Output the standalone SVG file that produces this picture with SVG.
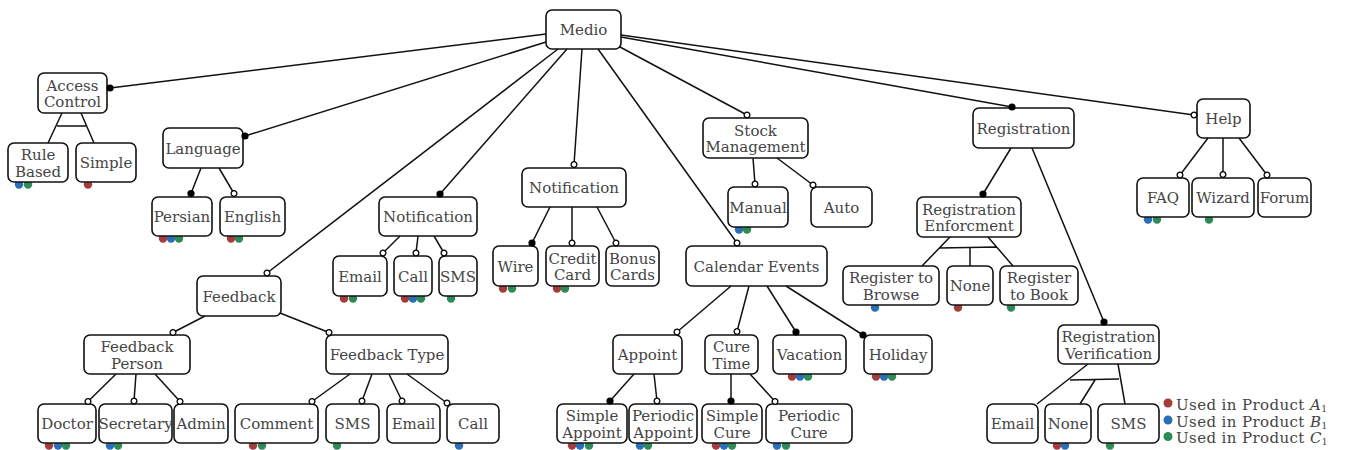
<svg xmlns="http://www.w3.org/2000/svg" width="1350" height="450" viewBox="0 0 1350 450">
<style>
.n{fill:#fff;stroke:#111;stroke-width:1.6}
.t{font-family:"DejaVu Serif","Liberation Serif",serif;font-size:15px;fill:#444;text-anchor:middle}
.lg{font-family:"DejaVu Serif","Liberation Serif",serif;font-size:15px;fill:#444;letter-spacing:0.4px}
.c{fill:none;stroke:#111;stroke-width:1.5}
.r{fill:#a43c3c}.b{fill:#2a6eb5}.g{fill:#2e8b57}
</style>
<defs>
<marker id="fd" markerUnits="userSpaceOnUse" viewBox="-5 -5 10 10" markerWidth="10" markerHeight="10" refX="0" refY="0"><circle r="3.6" fill="#000"/></marker>
<marker id="od" markerUnits="userSpaceOnUse" viewBox="-5 -5 10 10" markerWidth="10" markerHeight="10" refX="0" refY="0"><circle r="2.9" fill="#fff" stroke="#000" stroke-width="1.3"/></marker>
</defs>
<g id="usage">
<circle class="b" cx="19" cy="184.5" r="4.2"/><circle class="g" cx="28" cy="184.5" r="4.2"/>
<circle class="r" cx="88" cy="184.5" r="4.2"/>
<circle class="r" cx="163" cy="238.5" r="4.2"/><circle class="b" cx="171" cy="238.5" r="4.2"/><circle class="g" cx="179" cy="238.5" r="4.2"/>
<circle class="r" cx="231" cy="238.5" r="4.2"/><circle class="g" cx="239" cy="238.5" r="4.2"/>
<circle class="r" cx="49" cy="445.5" r="4.2"/><circle class="b" cx="58" cy="445.5" r="4.2"/><circle class="g" cx="66" cy="445.5" r="4.2"/>
<circle class="b" cx="110" cy="445.5" r="4.2"/><circle class="g" cx="118" cy="445.5" r="4.2"/>
<circle class="r" cx="253" cy="445.5" r="4.2"/><circle class="g" cx="262" cy="445.5" r="4.2"/>
<circle class="g" cx="337" cy="445.5" r="4.2"/>
<circle class="b" cx="459" cy="445.5" r="4.2"/>
<circle class="r" cx="344" cy="298.5" r="4.2"/><circle class="g" cx="353" cy="298.5" r="4.2"/>
<circle class="r" cx="405" cy="298.5" r="4.2"/><circle class="b" cx="413" cy="298.5" r="4.2"/><circle class="g" cx="421" cy="298.5" r="4.2"/>
<circle class="g" cx="451" cy="298.5" r="4.2"/>
<circle class="r" cx="503" cy="288.5" r="4.2"/><circle class="g" cx="512" cy="288.5" r="4.2"/>
<circle class="r" cx="557" cy="288.5" r="4.2"/><circle class="g" cx="565" cy="288.5" r="4.2"/>
<circle class="b" cx="739" cy="229.5" r="4.2"/><circle class="g" cx="747" cy="229.5" r="4.2"/>
<circle class="r" cx="572" cy="445.5" r="4.2"/><circle class="b" cx="580" cy="445.5" r="4.2"/><circle class="g" cx="589" cy="445.5" r="4.2"/>
<circle class="b" cx="640" cy="445.5" r="4.2"/><circle class="g" cx="648" cy="445.5" r="4.2"/>
<circle class="r" cx="716" cy="445.5" r="4.2"/><circle class="b" cx="724" cy="445.5" r="4.2"/><circle class="g" cx="732" cy="445.5" r="4.2"/>
<circle class="b" cx="777" cy="445.5" r="4.2"/><circle class="g" cx="786" cy="445.5" r="4.2"/>
<circle class="r" cx="792" cy="376.5" r="4.2"/><circle class="b" cx="800" cy="376.5" r="4.2"/><circle class="g" cx="808" cy="376.5" r="4.2"/>
<circle class="r" cx="876" cy="376.5" r="4.2"/><circle class="b" cx="884" cy="376.5" r="4.2"/><circle class="g" cx="892" cy="376.5" r="4.2"/>
<circle class="b" cx="875" cy="307.5" r="4.2"/>
<circle class="r" cx="958" cy="307.5" r="4.2"/>
<circle class="g" cx="1011" cy="307.5" r="4.2"/>
<circle class="r" cx="1057" cy="445.5" r="4.2"/><circle class="b" cx="1065" cy="445.5" r="4.2"/>
<circle class="g" cx="1110" cy="445.5" r="4.2"/>
<circle class="b" cx="1148" cy="219.5" r="4.2"/><circle class="g" cx="1157" cy="219.5" r="4.2"/>
<circle class="g" cx="1209" cy="219.5" r="4.2"/>
</g>
<g id="medio"><rect class="n" x="546" y="10" width="75" height="39" rx="6"/><text class="t" x="583.5" y="35">Medio</text></g>
<g id="access-control"><rect class="n" x="38" y="73" width="69" height="40" rx="6"/><text class="t" x="72.5" y="90.5">Access</text><text class="t" x="72.5" y="107">Control</text></g>
<g id="rule-based"><rect class="n" x="8" y="143" width="60" height="39" rx="6"/><text class="t" x="38" y="160">Rule</text><text class="t" x="38" y="176.5">Based</text></g>
<g id="simple"><rect class="n" x="76" y="143" width="60" height="39" rx="6"/><text class="t" x="106" y="168">Simple</text></g>
<g id="language"><rect class="n" x="163" y="128" width="80" height="40" rx="6"/><text class="t" x="203" y="153.5">Language</text></g>
<g id="persian"><rect class="n" x="152" y="197" width="60" height="39" rx="6"/><text class="t" x="182" y="222">Persian</text></g>
<g id="english"><rect class="n" x="220" y="197" width="65" height="39" rx="6"/><text class="t" x="252.5" y="222">English</text></g>
<g id="feedback"><rect class="n" x="197" y="276" width="84" height="40" rx="6"/><text class="t" x="239" y="301.5">Feedback</text></g>
<g id="feedback-person"><rect class="n" x="84" y="335" width="106" height="39" rx="6"/><text class="t" x="137" y="352">Feedback</text><text class="t" x="137" y="368.5">Person</text></g>
<g id="doctor"><rect class="n" x="38" y="404" width="58" height="39" rx="6"/><text class="t" x="67" y="429">Doctor</text></g>
<g id="secretary"><rect class="n" x="99" y="404" width="73" height="39" rx="6"/><text class="t" x="135.5" y="429">Secretary</text></g>
<g id="admin"><rect class="n" x="174" y="404" width="54" height="39" rx="6"/><text class="t" x="201" y="429">Admin</text></g>
<g id="feedback-type"><rect class="n" x="326" y="335" width="122" height="39" rx="6"/><text class="t" x="387" y="360">Feedback Type</text></g>
<g id="comment"><rect class="n" x="235" y="404" width="83" height="39" rx="6"/><text class="t" x="276.5" y="429">Comment</text></g>
<g id="fb-sms"><rect class="n" x="326" y="404" width="53" height="39" rx="6"/><text class="t" x="352.5" y="429">SMS</text></g>
<g id="fb-email"><rect class="n" x="387" y="404" width="53" height="39" rx="6"/><text class="t" x="413.5" y="429">Email</text></g>
<g id="fb-call"><rect class="n" x="447" y="404" width="52" height="39" rx="6"/><text class="t" x="473" y="429">Call</text></g>
<g id="notification-1"><rect class="n" x="379" y="197" width="98" height="39" rx="6"/><text class="t" x="428" y="222">Notification</text></g>
<g id="n-email"><rect class="n" x="333" y="256" width="54" height="40" rx="6"/><text class="t" x="360" y="281.5">Email</text></g>
<g id="n-call"><rect class="n" x="394" y="256" width="38" height="40" rx="6"/><text class="t" x="413" y="281.5">Call</text></g>
<g id="n-sms"><rect class="n" x="439" y="256" width="38" height="40" rx="6"/><text class="t" x="458" y="281.5">SMS</text></g>
<g id="notification-2"><rect class="n" x="522" y="168" width="104" height="39" rx="6"/><text class="t" x="574" y="193">Notification</text></g>
<g id="wire"><rect class="n" x="493" y="246" width="45" height="40" rx="6"/><text class="t" x="515.5" y="271.5">Wire</text></g>
<g id="credit-card"><rect class="n" x="546" y="246" width="53" height="40" rx="6"/><text class="t" x="572.5" y="263.5">Credit</text><text class="t" x="572.5" y="280">Card</text></g>
<g id="bonus-cards"><rect class="n" x="606" y="246" width="53" height="40" rx="6"/><text class="t" x="632.5" y="263.5">Bonus</text><text class="t" x="632.5" y="280">Cards</text></g>
<g id="stock-management"><rect class="n" x="703" y="118" width="105" height="40" rx="6"/><text class="t" x="755.5" y="135.5">Stock</text><text class="t" x="755.5" y="152">Management</text></g>
<g id="manual"><rect class="n" x="728" y="187" width="60" height="40" rx="6"/><text class="t" x="758" y="212.5">Manual</text></g>
<g id="auto"><rect class="n" x="811" y="187" width="61" height="40" rx="6"/><text class="t" x="841.5" y="212.5">Auto</text></g>
<g id="calendar-events"><rect class="n" x="686" y="246" width="141" height="40" rx="6"/><text class="t" x="756.5" y="271.5">Calendar Events</text></g>
<g id="appoint"><rect class="n" x="613" y="335" width="69" height="39" rx="6"/><text class="t" x="647.5" y="360">Appoint</text></g>
<g id="cure-time"><rect class="n" x="705" y="335" width="53" height="39" rx="6"/><text class="t" x="731.5" y="352">Cure</text><text class="t" x="731.5" y="368.5">Time</text></g>
<g id="vacation"><rect class="n" x="773" y="335" width="73" height="39" rx="6"/><text class="t" x="809.5" y="360">Vacation</text></g>
<g id="holiday"><rect class="n" x="864" y="335" width="68" height="39" rx="6"/><text class="t" x="898" y="360">Holiday</text></g>
<g id="simple-appoint"><rect class="n" x="557" y="404" width="70" height="39" rx="6"/><text class="t" x="592" y="421">Simple</text><text class="t" x="592" y="437.5">Appoint</text></g>
<g id="periodic-appoint"><rect class="n" x="629" y="404" width="68" height="39" rx="6"/><text class="t" x="663" y="421">Periodic</text><text class="t" x="663" y="437.5">Appoint</text></g>
<g id="simple-cure"><rect class="n" x="702" y="404" width="60" height="39" rx="6"/><text class="t" x="732" y="421">Simple</text><text class="t" x="732" y="437.5">Cure</text></g>
<g id="periodic-cure"><rect class="n" x="766" y="404" width="86" height="39" rx="6"/><text class="t" x="809" y="421">Periodic</text><text class="t" x="809" y="437.5">Cure</text></g>
<g id="registration"><rect class="n" x="973" y="108" width="101" height="40" rx="6"/><text class="t" x="1023.5" y="133.5">Registration</text></g>
<g id="registration-enforcment"><rect class="n" x="917" y="197" width="104" height="40" rx="6"/><text class="t" x="969" y="214.5">Registration</text><text class="t" x="969" y="231">Enforcment</text></g>
<g id="register-to-browse"><rect class="n" x="843" y="266" width="96" height="39" rx="6"/><text class="t" x="891" y="283">Register to</text><text class="t" x="891" y="299.5">Browse</text></g>
<g id="enf-none"><rect class="n" x="947" y="266" width="46" height="39" rx="6"/><text class="t" x="970" y="291">None</text></g>
<g id="register-to-book"><rect class="n" x="1000" y="266" width="78" height="39" rx="6"/><text class="t" x="1039" y="283">Register</text><text class="t" x="1039" y="299.5">to Book</text></g>
<g id="registration-verification"><rect class="n" x="1058" y="325" width="101" height="39" rx="6"/><text class="t" x="1108.5" y="342">Registration</text><text class="t" x="1108.5" y="358.5">Verification</text></g>
<g id="rv-email"><rect class="n" x="987" y="404" width="51" height="39" rx="6"/><text class="t" x="1012.5" y="429">Email</text></g>
<g id="rv-none"><rect class="n" x="1045" y="404" width="46" height="39" rx="6"/><text class="t" x="1068" y="429">None</text></g>
<g id="rv-sms"><rect class="n" x="1098" y="404" width="61" height="39" rx="6"/><text class="t" x="1128.5" y="429">SMS</text></g>
<g id="help"><rect class="n" x="1197" y="99" width="53" height="39" rx="6"/><text class="t" x="1223.5" y="124">Help</text></g>
<g id="faq"><rect class="n" x="1137" y="178" width="52" height="39" rx="6"/><text class="t" x="1163" y="203">FAQ</text></g>
<g id="wizard"><rect class="n" x="1192" y="178" width="62" height="39" rx="6"/><text class="t" x="1223" y="203">Wizard</text></g>
<g id="forum"><rect class="n" x="1258" y="178" width="53" height="39" rx="6"/><text class="t" x="1284.5" y="203">Forum</text></g>
<g id="connectors">
<path class="c" d="M546 34 L110 88" marker-end="url(#fd)"/>
<path class="c" d="M546 42 L245 136" marker-end="url(#fd)"/>
<path class="c" d="M558 49 L267 273" marker-end="url(#od)"/>
<path class="c" d="M567 49 L440 194" marker-end="url(#fd)"/>
<path class="c" d="M582 49 L574 164.5" marker-end="url(#od)"/>
<path class="c" d="M598 49 L737 243" marker-end="url(#od)"/>
<path class="c" d="M620 47 L747 115" marker-end="url(#od)"/>
<path class="c" d="M621 37 L1012 107" marker-end="url(#fd)"/>
<path class="c" d="M621 35 L1194 115" marker-end="url(#od)"/>
<path class="c" d="M62 113 L48 143 M81 113 L94 143 M57 126 L86 126"/>
<path class="c" d="M201 168 L191 193.5" marker-end="url(#fd)"/>
<path class="c" d="M219 168 L234 193.5" marker-end="url(#od)"/>
<path class="c" d="M400 236 L383 253" marker-end="url(#od)"/>
<path class="c" d="M418 236 L416 253" marker-end="url(#od)"/>
<path class="c" d="M434 236 L444 253" marker-end="url(#od)"/>
<path class="c" d="M550 207 L532 243" marker-end="url(#fd)"/>
<path class="c" d="M572 207 L572 243" marker-end="url(#od)"/>
<path class="c" d="M597 207 L616 243" marker-end="url(#od)"/>
<path class="c" d="M205 316 L173 332.5" marker-end="url(#od)"/>
<path class="c" d="M280 313 L329 332.5" marker-end="url(#od)"/>
<path class="c" d="M116 374 L88 401.5" marker-end="url(#od)"/>
<path class="c" d="M136 374 L134 401" marker-end="url(#od)"/>
<path class="c" d="M155 374 L180 401.5" marker-end="url(#od)"/>
<path class="c" d="M350 374 L312 401.5" marker-end="url(#od)"/>
<path class="c" d="M372 374 L362 401" marker-end="url(#od)"/>
<path class="c" d="M389 374 L402 401" marker-end="url(#od)"/>
<path class="c" d="M407 374 L447 403" marker-end="url(#od)"/>
<path class="c" d="M731 286 L677 332" marker-end="url(#od)"/>
<path class="c" d="M749 286 L737 331.5" marker-end="url(#od)"/>
<path class="c" d="M767 286 L796 332" marker-end="url(#fd)"/>
<path class="c" d="M786 286 L863 335" marker-end="url(#fd)"/>
<path class="c" d="M634 374 L610 401" marker-end="url(#fd)"/>
<path class="c" d="M654 374 L657 401" marker-end="url(#od)"/>
<path class="c" d="M731 374 L731 401" marker-end="url(#fd)"/>
<path class="c" d="M750 374 L775 401.5" marker-end="url(#od)"/>
<path class="c" d="M753 158 L755 184" marker-end="url(#od)"/>
<path class="c" d="M777 158 L813 185" marker-end="url(#od)"/>
<path class="c" d="M1011 148 L983 194" marker-end="url(#fd)"/>
<path class="c" d="M1032 148 L1104 322" marker-end="url(#fd)"/>
<path class="c" d="M950 237 L922 266 M970 248 L970 266 M988 237 L1013 266 M939 248 L997 247"/>
<path class="c" d="M1088 364 L1037 404 M1095 380 L1080 404 M1118 364 L1125 404 M1070 380 L1119 379"/>
<path class="c" d="M1208 138 L1180 175" marker-end="url(#od)"/>
<path class="c" d="M1223 138 L1223 174.5" marker-end="url(#od)"/>
<path class="c" d="M1239 138 L1267 175" marker-end="url(#od)"/>
</g>
<g id="legend">
<circle class="r" cx="1168" cy="403" r="4.5"/>
<circle class="b" cx="1168" cy="420" r="4.5"/>
<circle class="g" cx="1168" cy="436.5" r="4.5"/>
<text class="lg" x="1176" y="410">Used in Product <tspan font-style="italic">A</tspan><tspan font-size="9" dy="2">1</tspan></text>
<text class="lg" x="1176" y="427">Used in Product <tspan font-style="italic">B</tspan><tspan font-size="9" dy="2">1</tspan></text>
<text class="lg" x="1176" y="443">Used in Product <tspan font-style="italic">C</tspan><tspan font-size="9" dy="2">1</tspan></text>
</g>
</svg>
